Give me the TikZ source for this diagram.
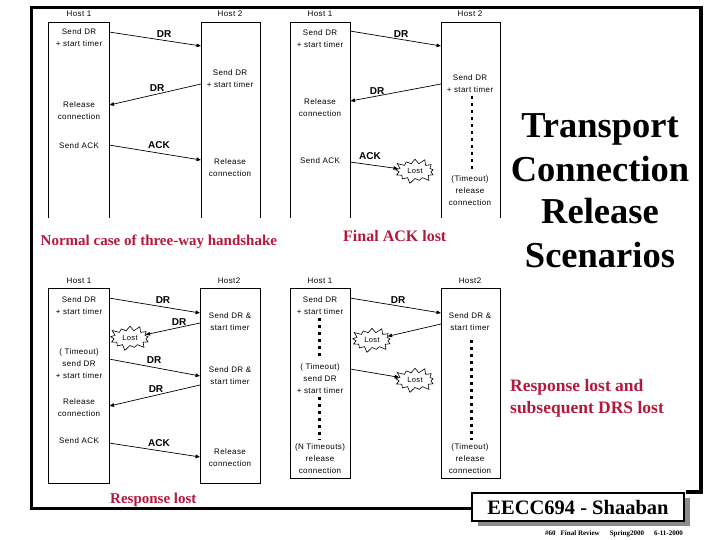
\documentclass[tikz,border=0pt]{standalone}
\usepackage{fontspec}
\setmainfont{Liberation Serif}
\newfontfamily\diagfont[LetterSpace=5]{Liberation Sans}
\newfontfamily\lblfont{Liberation Sans}
\usetikzlibrary{arrows.meta,shapes.symbols}
\definecolor{slidered}{RGB}{180,25,60}
\definecolor{shadowgray}{RGB}{140,140,140}
\tikzset{
  hostbox/.style={draw, line width=0.8pt},
  dtxt/.style={font=\fontsize{8}{12}\selectfont\diagfont, align=center, inner sep=0pt},
  msglbl/.style={font=\fontsize{10}{11}\selectfont\lblfont\bfseries, inner sep=0pt},
  msg/.style={line width=0.7pt, -{Triangle[length=4.5pt,width=3.6pt]}},
  lostburst/.style={starburst, draw, line width=0.6pt, fill=white, starburst points=13,
    starburst point height=6pt, minimum width=44pt, minimum height=27pt, inner sep=0pt,
    font=\fontsize{7.5}{8}\selectfont\diagfont},
  waitdots/.style={line width=2.8pt, dash pattern=on 2.8pt off 4.2pt},
  redlbl/.style={text=slidered, inner sep=0pt, anchor=base west},
  titletxt/.style={font=\fontsize{36.5}{43}\selectfont\bfseries, inner sep=0pt, anchor=base},
  frame/.style={line width=3.5pt, line join=miter},
}
\begin{document}
\begin{tikzpicture}[x=1pt,y=-1pt]
\useasboundingbox (0,0) rectangle (720,540);

% ---------- slide frame and footer ----------
\fill[shadowgray] (478,498) rectangle (690,526);
\node[draw, line width=1.8pt, fill=white, minimum width=212pt, minimum height=28pt,
      inner sep=0pt, font=\fontsize{20.5}{22}\selectfont\bfseries] (foot) at (578,507) {EECC694 - Shaaban};
\draw[frame] (472,508.5) -- (31.5,508.5) -- (31.5,7.5) -- (701,7.5) -- (701,492) -- (686,492);
\node[inner sep=0pt, anchor=base east, font=\fontsize{7}{8}\selectfont\bfseries] (footnote) at (683,535)
  {\#60\hspace{5pt}Final Review\hspace{10pt}Spring2000\hspace{10pt}6-11-2000};

% ---------- title ----------
\node[titletxt] (t1) at (600,138) {Transport};
\node[titletxt] (t2) at (600,182) {Connection};
\node[titletxt] (t3) at (600,224) {Release};
\node[titletxt] (t4) at (600,267) {Scenarios};

% ---------- captions ----------
\node[redlbl, font=\fontsize{15}{18}\selectfont\bfseries] (cap1) at (40.5,245.5) {Normal case of three-way handshake};
\node[redlbl, font=\fontsize{16}{18}\selectfont\bfseries] (cap2) at (343,241.5) {Final ACK lost};
\node[redlbl, font=\fontsize{15}{18}\selectfont\bfseries] (cap3) at (110,503) {Response lost};
\node[redlbl, font=\fontsize{17.5}{21.5}\selectfont\bfseries] (cap4a) at (510,391.5) {Response lost and};
\node[redlbl, font=\fontsize{17.5}{21.5}\selectfont\bfseries] (cap4b) at (510,413) {subsequent DRS lost};

% =============== TOP LEFT: normal case ===============
\draw[hostbox] (48,218) -- (48,22) -- (109,22) -- (109,218);
\draw[hostbox] (201,218) -- (201,22) -- (260,22) -- (260,218);
\node[dtxt] (tlh1) at (79,14) {Host 1};
\node[dtxt] (tlh2) at (230,14) {Host 2};
\node[dtxt] (tla1) at (79,38) {Send DR\\+ start timer};
\node[dtxt] (tla2) at (79,111) {Release\\connection};
\node[dtxt] (tla3) at (79,146) {Send ACK};
\node[dtxt] (tlb1) at (230,79) {Send DR\\+ start timer};
\node[dtxt] (tlb2) at (230,168) {Release\\connection};
\coordinate (tlp1) at (109,32);  \coordinate (tlq1) at (201,46);
\coordinate (tlq2) at (201,84);  \coordinate (tlp2) at (109.5,105);
\coordinate (tlp3) at (109,145); \coordinate (tlq3) at (201,160);
\draw[msg] (tlp1) -- (tlq1);
\draw[msg] (tlq2) -- (tlp2);
\draw[msg] (tlp3) -- (tlq3);
\node[msglbl] (tll1) at (164,34) {DR};
\node[msglbl] (tll2) at (157,88) {DR};
\node[msglbl] (tll3) at (159,145) {ACK};

% =============== TOP RIGHT: final ACK lost ===============
\draw[hostbox] (290,218) -- (290,22) -- (350,22) -- (350,218);
\draw[hostbox] (441,218) -- (441,22) -- (500,22) -- (500,218);
\node[dtxt] (trh1) at (320,14) {Host 1};
\node[dtxt] (trh2) at (470,14) {Host 2};
\node[dtxt] (tra1) at (320,38.5) {Send DR\\+ start timer};
\node[dtxt] (tra2) at (320,107.5) {Release\\connection};
\node[dtxt] (tra3) at (320,161) {Send ACK};
\node[dtxt] (trb1) at (470,83.5) {Send DR\\+ start timer};
\node[dtxt] (trb2) at (470,191) {(Timeout)\\release\\connection};
\coordinate (trd1) at (472,96); \coordinate (trd2) at (472,170);
\draw[waitdots] (trd1) -- (trd2);
\node[lostburst] (trlost) at (415,171) {Lost};
\coordinate (trp1) at (350,31);  \coordinate (trq1) at (441,46);
\coordinate (trq2) at (441,84);  \coordinate (trp2) at (350.5,101);
\coordinate (trp3) at (350,162);
\draw[msg] (trp1) -- (trq1);
\draw[msg] (trq2) -- (trp2);
\draw[msg] (trp3) -- (trlost);
\node[msglbl] (trl1) at (401,34) {DR};
\node[msglbl] (trl2) at (377,91) {DR};
\node[msglbl] (trl3) at (370,156) {ACK};

% =============== BOTTOM LEFT: response lost ===============
\draw[hostbox] (48,288) rectangle (109,483);
\draw[hostbox] (200,288) rectangle (260,483);
\node[dtxt] (blh1) at (79,281) {Host 1};
\node[dtxt] (blh2) at (229,281) {Host2};
\node[dtxt] (bla1) at (79,305.5) {Send DR\\+ start timer};
\node[dtxt] (bla2) at (79,364) {( Timeout)\\send DR\\+ start timer};
\node[dtxt] (bla3) at (79,408) {Release\\connection};
\node[dtxt] (bla4) at (79,441) {Send ACK};
\node[dtxt] (blb1) at (230,322) {Send DR \&\\start timer};
\node[dtxt] (blb2) at (230,376) {Send DR \&\\start timer};
\node[dtxt] (blb3) at (230,458) {Release\\connection};
\node[lostburst] (bllost) at (130,338) {Lost};
\coordinate (blp1) at (109,298);   \coordinate (blq1) at (200,313);
\coordinate (blq2) at (200,323);
\coordinate (blp3) at (109,359);   \coordinate (blq3) at (200,376);
\coordinate (blq4) at (200,385);   \coordinate (blp4) at (109.5,406);
\coordinate (blp5) at (109,443);   \coordinate (blq5) at (200,457);
\draw[msg] (blp1) -- (blq1);
\draw[msg] (blq2) -- (bllost);
\draw[msg] (blp3) -- (blq3);
\draw[msg] (blq4) -- (blp4);
\draw[msg] (blp5) -- (blq5);
\node[msglbl] (bll1) at (163,300) {DR};
\node[msglbl] (bll2) at (179,322) {DR};
\node[msglbl] (bll3) at (154,360) {DR};
\node[msglbl] (bll4) at (156,389) {DR};
\node[msglbl] (bll5) at (159,443) {ACK};

% =============== BOTTOM RIGHT: response and DRs lost ===============
\draw[hostbox] (290,288) rectangle (350,478);
\draw[hostbox] (441,288) rectangle (500,478);
\node[dtxt] (brh1) at (320,281) {Host 1};
\node[dtxt] (brh2) at (470,281) {Host2};
\node[dtxt] (bra1) at (320,305.5) {Send DR\\+ start timer};
\node[dtxt] (bra2) at (320,379) {( Timeout)\\send DR\\+ start timer};
\node[dtxt] (bra3) at (320,459) {(N Timeouts)\\release\\connection};
\node[dtxt] (brb1) at (470,322) {Send DR \&\\start timer};
\node[dtxt] (brb2) at (470,459) {(Timeout)\\release\\connection};
\coordinate (brd1) at (319.5,318); \coordinate (brd2) at (319.5,359);
\coordinate (brd3) at (319.5,397); \coordinate (brd4) at (319.5,440);
\coordinate (brd5) at (471.5,340); \coordinate (brd6) at (471.5,440);
\draw[waitdots] (brd1) -- (brd2);
\draw[waitdots] (brd3) -- (brd4);
\draw[waitdots] (brd5) -- (brd6);
\node[lostburst] (brlost1) at (372,340) {Lost};
\node[lostburst] (brlost2) at (415,380) {Lost};
\coordinate (brp1) at (350,298);  \coordinate (brq1) at (441,313);
\coordinate (brq2) at (441,324);
\coordinate (brp3) at (350,369);
\draw[msg] (brp1) -- (brq1);
\draw[msg] (brq2) -- (brlost1);
\draw[msg] (brp3) -- (brlost2);
\node[msglbl] (brl1) at (398,300) {DR};
\end{tikzpicture}
\end{document}
